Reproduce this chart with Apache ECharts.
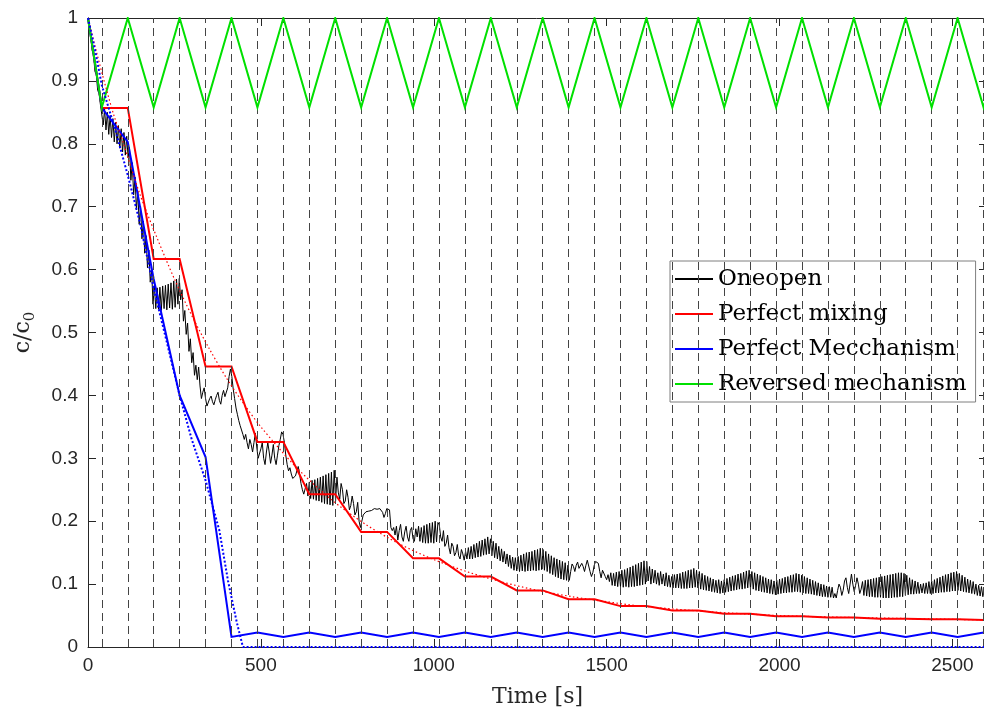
<!DOCTYPE html>
<html><head><meta charset="utf-8">
<script src="https://cdn.jsdelivr.net/npm/echarts@6/dist/echarts.min.js"></script>
<style>html,body{margin:0;padding:0;background:#fff}#c{width:984px;height:718px}</style>
</head><body><div id="c"></div>
<script>
// switching instants (dashed vertical lines), seconds
const switchTimes = [40,115,190,265,340,415,490,565,640,715,790,865,940,1015,1090,1165,1240,1315,1390,1465,1540,1615,1690,1765,1840,1915,1990,2065,2140,2215,2290,2365,2440,2515,2590];
// time nodes of the piecewise curves
const stepTimes = [0,40,115,190,265,340,415,490,565,640,715,790,865,940,1015,1090,1165,1240,1315,1390,1465,1540,1615,1690,1765,1840,1915,1990,2065,2140,2215,2290,2365,2440,2515,2590,2600];
const mixingV = [1,0.857,0.857,0.617,0.617,0.446,0.446,0.326,0.326,0.243,0.243,0.183,0.183,0.141,0.141,0.112,0.112,0.090,0.090,0.076,0.076,0.065,0.065,0.058,0.058,0.053,0.053,0.049,0.049,0.047,0.047,0.045,0.045,0.044,0.044,0.043,0.043];
const mechanismV = [1,0.857,0.803,0.585,0.400,0.302,0.016,0.023,0.016,0.023,0.016,0.023,0.016,0.023,0.016,0.023,0.016,0.023,0.016,0.023,0.016,0.023,0.016,0.023,0.016,0.023,0.016,0.023,0.016,0.023,0.016,0.023,0.016,0.023,0.016,0.023,0.022];
const reversedV = [1,0.858,1,0.858,1,0.858,1,0.858,1,0.858,1,0.858,1,0.858,1,0.858,1,0.858,1,0.858,1,0.858,1,0.858,1,0.858,1,0.858,1,0.858,1,0.858,1,0.858,1,0.858,0.877];
// continuous (dotted) curves
const mixDotT = [0,25,50,75,100,150,200,250,300,350,400,450,500,600,700,800,900,1000,1100,1200,1300,1400,1500,1600,1800,2000,2200,2400,2600];
const mixDotV = [1.0,0.945,0.893,0.845,0.805,0.72,0.65,0.585,0.527,0.475,0.428,0.387,0.350,0.287,0.236,0.196,0.164,0.139,0.119,0.103,0.090,0.080,0.072,0.065,0.056,0.050,0.047,0.045,0.043];
const mechDotT = [0,20,40,80,115,150,190,230,265,300,340,380,405,430,448,2600];
const mechDotV = [1,0.95,0.893,0.82,0.75,0.675,0.57,0.48,0.40,0.33,0.265,0.185,0.105,0.04,0,0];
// "Oneopen" measured signal, sampled every 4 s from t = 0
const oneopenStep = 4;
const oneopenV = [
1.000,0.980,0.972,0.948,0.942,0.915,0.910,0.885,0.880,0.862,
0.860,0.830,0.855,0.822,0.850,0.815,0.845,0.810,0.840,0.803,
0.834,0.800,0.829,0.793,0.824,0.787,0.818,0.782,0.812,0.778,
0.794,0.742,0.770,0.719,0.747,0.695,0.724,0.672,0.701,0.649,
0.677,0.626,0.654,0.603,0.631,0.580,0.600,0.545,0.575,0.538,
0.571,0.537,0.572,0.535,0.574,0.538,0.575,0.536,0.577,0.539,
0.579,0.537,0.582,0.540,0.585,0.545,0.586,0.552,0.568,0.518,
0.535,0.497,0.515,0.470,0.490,0.452,0.468,0.432,0.448,0.425,
0.445,0.415,0.395,0.405,0.412,0.395,0.383,0.385,0.395,0.399,
0.390,0.385,0.393,0.400,0.405,0.392,0.386,0.400,0.408,0.398,
0.400,0.412,0.430,0.442,0.430,0.410,0.395,0.380,0.370,0.360,
0.352,0.345,0.338,0.330,0.338,0.325,0.315,0.330,0.322,0.310,
0.325,0.340,0.318,0.300,0.297,0.315,0.325,0.300,0.290,0.310,
0.325,0.310,0.292,0.305,0.322,0.300,0.290,0.305,0.320,0.330,
0.342,0.338,0.325,0.305,0.290,0.280,0.285,0.275,0.268,0.265,
0.272,0.280,0.287,0.275,0.260,0.250,0.243,0.245,0.260,0.240,
0.262,0.236,0.265,0.235,0.266,0.233,0.268,0.232,0.270,0.230,
0.272,0.228,0.274,0.227,0.276,0.226,0.278,0.225,0.281,0.232,
0.270,0.245,0.235,0.260,0.250,0.228,0.232,0.250,0.238,0.218,
0.225,0.240,0.228,0.210,0.215,0.230,0.200,0.190,0.200,0.210,
0.212,0.215,0.214,0.216,0.215,0.217,0.218,0.220,0.220,0.219,
0.221,0.220,0.218,0.214,0.206,0.212,0.220,0.223,0.218,0.190,
0.185,0.190,0.178,0.192,0.170,0.185,0.195,0.175,0.168,0.183,
0.192,0.175,0.168,0.185,0.190,0.172,0.168,0.188,0.175,0.192,
0.168,0.190,0.166,0.193,0.165,0.195,0.165,0.197,0.166,0.198,
0.165,0.200,0.167,0.198,0.194,0.175,0.168,0.185,0.160,0.165,
0.178,0.158,0.148,0.165,0.160,0.145,0.150,0.163,0.145,0.140,
0.155,0.148,0.138,0.152,0.140,0.158,0.140,0.160,0.140,0.163,
0.142,0.165,0.143,0.168,0.144,0.170,0.146,0.172,0.147,0.175,
0.148,0.172,0.145,0.168,0.142,0.165,0.140,0.160,0.137,0.156,
0.135,0.152,0.132,0.148,0.128,0.146,0.125,0.143,0.122,0.142,
0.121,0.144,0.120,0.146,0.121,0.148,0.120,0.150,0.121,0.151,
0.121,0.152,0.122,0.154,0.121,0.155,0.122,0.157,0.123,0.155,
0.122,0.152,0.120,0.148,0.117,0.145,0.115,0.142,0.112,0.140,
0.110,0.138,0.108,0.136,0.107,0.134,0.106,0.130,0.106,0.120,
0.132,0.128,0.120,0.130,0.135,0.125,0.122,0.133,0.128,0.120,
0.130,0.138,0.135,0.120,0.112,0.118,0.130,0.136,0.138,0.133,
0.120,0.110,0.122,0.125,0.112,0.107,0.115,0.104,0.118,0.098,
0.117,0.097,0.119,0.096,0.120,0.096,0.122,0.095,0.123,0.096,
0.125,0.095,0.127,0.096,0.129,0.096,0.131,0.097,0.133,0.098,
0.135,0.099,0.137,0.100,0.136,0.105,0.128,0.100,0.124,0.102,
0.122,0.100,0.118,0.098,0.120,0.100,0.116,0.097,0.118,0.096,
0.114,0.095,0.112,0.094,0.115,0.094,0.116,0.094,0.117,0.093,
0.119,0.093,0.120,0.093,0.122,0.094,0.123,0.094,0.125,0.095,
0.122,0.094,0.120,0.092,0.117,0.091,0.114,0.090,0.112,0.089,
0.110,0.088,0.108,0.087,0.106,0.086,0.107,0.085,0.105,0.086,
0.107,0.087,0.109,0.088,0.111,0.089,0.113,0.090,0.114,0.091,
0.116,0.092,0.117,0.092,0.119,0.093,0.121,0.094,0.122,0.093,
0.120,0.092,0.118,0.090,0.116,0.089,0.114,0.088,0.112,0.087,
0.110,0.086,0.108,0.085,0.107,0.084,0.105,0.083,0.106,0.084,
0.108,0.085,0.109,0.086,0.111,0.086,0.112,0.087,0.114,0.087,
0.115,0.088,0.117,0.088,0.116,0.087,0.114,0.086,0.112,0.085,
0.110,0.085,0.108,0.084,0.106,0.083,0.104,0.082,0.102,0.081,
0.100,0.080,0.099,0.080,0.097,0.079,0.096,0.079,0.095,0.078,
0.085,0.078,0.090,0.100,0.095,0.082,0.090,0.105,0.110,0.095,
0.085,0.100,0.116,0.100,0.088,0.098,0.110,0.100,0.085,0.092,
0.104,0.082,0.106,0.081,0.107,0.080,0.108,0.080,0.109,0.079,
0.110,0.079,0.111,0.079,0.112,0.078,0.113,0.078,0.114,0.078,
0.115,0.078,0.116,0.079,0.117,0.079,0.118,0.080,0.118,0.080,
0.117,0.082,0.114,0.083,0.110,0.084,0.107,0.084,0.105,0.085,
0.103,0.085,0.100,0.086,0.101,0.085,0.102,0.085,0.104,0.085,
0.105,0.085,0.107,0.086,0.109,0.086,0.111,0.087,0.113,0.087,
0.115,0.088,0.116,0.088,0.118,0.089,0.119,0.089,0.120,0.090,
0.117,0.089,0.114,0.088,0.111,0.087,0.108,0.086,0.106,0.085,
0.104,0.084,0.100,0.082,0.098,0.081,0.096,0.080,0.095,0.082,
0.080];
const xTicks = {min:0, max:2600, interval:500};
const yTicks = {min:0, max:1, interval:0.1};
const legendNames = ['Oneopen','Perfect mixing','Perfect Mecchanism','Reversed mechanism'];

const pairs = (t, v) => t.map((x, i) => [x, v[i]]);
const oneopenData = oneopenV.map((v, i) => [i * oneopenStep, v]);

const axisColor = '#262626';
const labelFont = {fontFamily:'Liberation Sans', fontSize:19, color:axisColor};
const serif = 'DejaVu Serif';

const chart = echarts.init(document.getElementById('c'), null, {renderer:'canvas'});
chart.setOption({
  animation:false,
  backgroundColor:'#fff',
  grid:{left:88, top:18, width:899, height:629, containLabel:false, outerBoundsMode:'none'},
  legend:{
    orient:'vertical', left:670, top:261, selectedMode:false,
    data:legendNames,
    itemWidth:38, itemHeight:14, itemGap:11, itemTextGap:4,
    itemStyle:{opacity:0},
    padding:[6,9,6,4], backgroundColor:'#fff', borderColor:'#7f7f7f', borderWidth:1, borderRadius:0,
    textStyle:{fontFamily:serif, fontSize:23, color:'#000', lineHeight:24}
  },
  xAxis:[{
    type:'value', min:xTicks.min, max:xTicks.max, interval:xTicks.interval, position:'bottom',
    axisLine:{show:true, onZero:false, lineStyle:{color:axisColor, width:1}},
    axisTick:{show:true, inside:true, length:8, lineStyle:{color:axisColor}},
    axisLabel:Object.assign({showMaxLabel:false, margin:9, formatter:v => String(Math.round(v))}, labelFont),
    splitLine:{show:false},
    name:'Time [s]', nameLocation:'middle', nameGap:39,
    nameTextStyle:{fontFamily:serif, fontSize:22, color:axisColor}
  },{
    type:'value', min:xTicks.min, max:xTicks.max, interval:xTicks.interval, position:'top',
    axisLine:{show:true, onZero:false, lineStyle:{color:axisColor, width:1}},
    axisTick:{show:true, inside:true, length:8, lineStyle:{color:axisColor}},
    axisLabel:{show:false}, splitLine:{show:false}
  }],
  yAxis:[{
    type:'value', min:yTicks.min, max:yTicks.max, interval:yTicks.interval, position:'left',
    axisLine:{show:true, onZero:false, lineStyle:{color:axisColor, width:1}},
    axisTick:{show:true, inside:true, length:8, lineStyle:{color:axisColor}},
    axisLabel:Object.assign({margin:10, formatter:v => String(+v.toFixed(1))}, labelFont),
    splitLine:{show:false},
    name:'{a|c/c}{b|0}', nameLocation:'middle', nameGap:50, nameRotate:90,
    nameTextStyle:{fontFamily:serif, fontSize:22, color:axisColor,
      rich:{a:{fontFamily:serif, fontSize:22, color:axisColor, lineHeight:30, verticalAlign:'middle'},
            b:{fontFamily:serif, fontSize:15, color:axisColor, verticalAlign:'bottom'}}}
  },{
    type:'value', min:yTicks.min, max:yTicks.max, interval:yTicks.interval, position:'right',
    axisLine:{show:true, onZero:false, lineStyle:{color:axisColor, width:1}},
    axisTick:{show:true, inside:true, length:8, lineStyle:{color:axisColor}},
    axisLabel:{show:false}, splitLine:{show:false}
  }],
  series:[
    {type:'line', name:'switches', data:[], silent:true, z:1,
     markLine:{symbol:['none','none'], silent:true, animation:false, label:{show:false},
       lineStyle:{type:[8,5], color:'#444', width:1},
       emphasis:{disabled:true},
       data:switchTimes.map(t => ({xAxis:t}))}},
    {type:'line', name:'Oneopen', data:oneopenData, symbol:'none', showSymbol:false, z:2,
     lineStyle:{color:'#000', width:1}, itemStyle:{color:'#000'}},
    {type:'line', name:'Perfect mixing', data:pairs(stepTimes, mixingV), symbol:'none', z:3,
     lineStyle:{color:'#ff0000', width:2, join:'miter'}, itemStyle:{color:'#ff0000'}},
    {type:'line', name:'Perfect Mecchanism', data:pairs(stepTimes, mechanismV), symbol:'none', z:4,
     lineStyle:{color:'#0000ff', width:2, join:'miter'}, itemStyle:{color:'#0000ff'}},
    {type:'line', name:'Reversed mechanism', data:pairs(stepTimes, reversedV), symbol:'none', z:5,
     lineStyle:{color:'#00e000', width:2, join:'miter'}, itemStyle:{color:'#00e000'}},
    {type:'line', name:'mixing continuous', data:pairs(mixDotT, mixDotV), symbol:'none', smooth:0.3, z:6,
     lineStyle:{color:'#ff0000', width:1.2, type:[1.5,2.5]}, itemStyle:{color:'#ff0000'}},
    {type:'line', name:'mechanism continuous', data:pairs(mechDotT, mechDotV), symbol:'none', z:7,
     lineStyle:{color:'#0000ff', width:2, type:[2,2]}, itemStyle:{color:'#0000ff'}}
  ]
});
</script></body></html>
